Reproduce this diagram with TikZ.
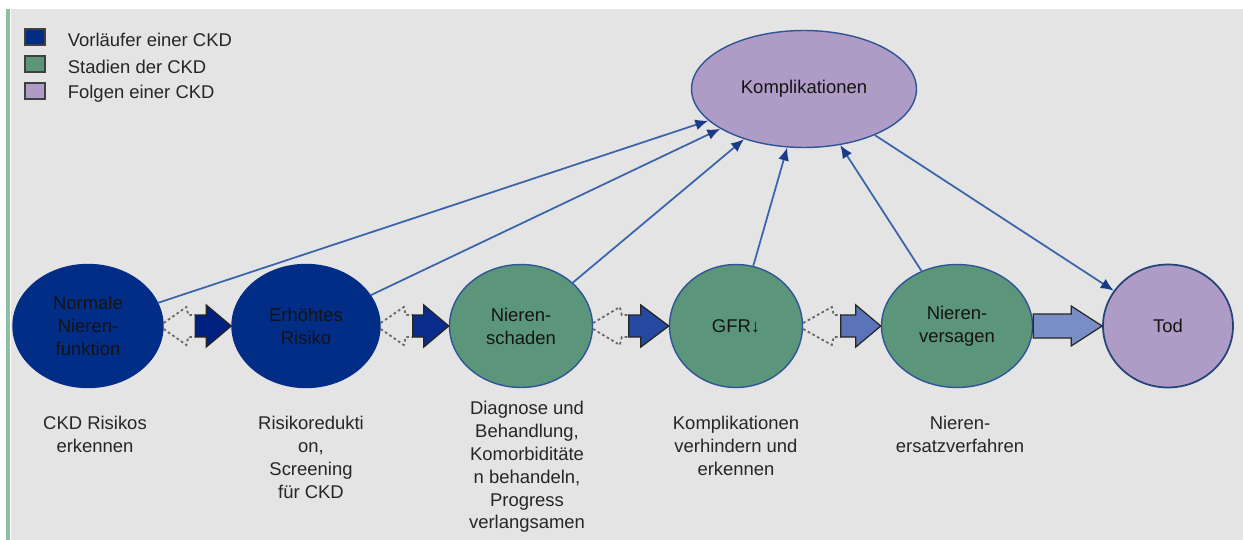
\documentclass[tikz,border=0pt]{standalone}
\usepackage{fontspec}
\setmainfont{Liberation Sans}
\usetikzlibrary{positioning,calc,arrows.meta,shapes.geometric}

\definecolor{bggray}{HTML}{E4E4E4}
\definecolor{sidegreen}{HTML}{8DBFA5}
\definecolor{navyfill}{HTML}{022D86}
\definecolor{stagegreen}{HTML}{5B967A}
\definecolor{folgepurple}{HTML}{AE9CC6}
\definecolor{edgeblue}{HTML}{2F5597}
\definecolor{linkblue}{HTML}{3B64AA}
\definecolor{tipnavy}{HTML}{1A3A8A}
\definecolor{fatA}{HTML}{00207F}
\definecolor{fatB}{HTML}{0A2C8C}
\definecolor{fatC}{HTML}{2548A0}
\definecolor{fatD}{HTML}{5A73B9}
\definecolor{fatE}{HTML}{7A8EC6}

\newcommand{\ckdfont}{\fontsize{10.5}{13}\selectfont}

% block arrow: start, tip, fill, head length, body half height, head half height
\newcommand{\fatarrow}[6]{%
  \draw[fat, fill=#3] ($(#1)+(0,-#5)$) -- ($(#2)+(-#4,-#5)$) -- ($(#2)+(-#4,-#6)$)
    -- (#2) -- ($(#2)+(-#4,#6)$) -- ($(#2)+(-#4,#5)$) -- ($(#1)+(0,#5)$) -- cycle;}
% dotted tail in front of a block arrow
\newcommand{\ghosttail}[2]{%
  \draw[ghost] ($(#1.east)+(0,-3)$) -- ($(#2)+(-9,-19)$) -- ($(#2)+(-7,-11)$) -- ($(#2)+(0,-11)$);
  \draw[ghost] ($(#1.east)+(0,3)$) -- ($(#2)+(-9,19)$) -- ($(#2)+(-7,11)$) -- ($(#2)+(0,11)$);}

\tikzset{
  stage/.style={ellipse, draw=edgeblue, line width=0.8pt, inner sep=0pt,
    minimum height=2.46cm, font=\ckdfont, text=black!92, align=center},
  legbox/.style={draw=black!75, line width=0.6pt, minimum width=0.4cm,
    minimum height=0.32cm, inner sep=0pt},
  legtext/.style={anchor=west, inner sep=0pt, font=\ckdfont, text=black!85},
  hint/.style={anchor=north, inner sep=0pt, align=center, font=\ckdfont, text=black!85},
  link/.style={draw=linkblue, line width=1pt},
  ghost/.style={draw=black!60, line width=1pt, dash pattern=on 1.5pt off 1.5pt},
  fat/.style={draw=black!85, line width=0.7pt, line join=miter}
}

\begin{document}
\begin{tikzpicture}[x=0.02cm, y=-0.02cm,
    >={Latex[length=2.6mm,width=2.2mm,color=tipnavy]}]
  \useasboundingbox (0,0) rectangle (1243,540);
  \fill[white] (0,0) rectangle (1243,540);
  \fill[bggray] (11,9) rectangle (1243,540);
  \fill[sidegreen] (6,9) rectangle (10,540);

  % legend
  \node[legbox, fill=navyfill] (lg1) at (35,37) {};
  \node[legbox, fill=stagegreen] (lg2) at (35,64) {};
  \node[legbox, fill=folgepurple] (lg3) at (35,91) {};
  \node[legtext, right=0.44cm of lg1, yshift=-0.05cm] (lt1) {Vorläufer einer CKD};
  \node[legtext, right=0.44cm of lg2, yshift=-0.05cm] (lt2) {Stadien der CKD};
  \node[legtext, right=0.44cm of lg3, yshift=-0.05cm] (lt3) {Folgen einer CKD};

  % stages
  \node[stage, fill=navyfill, draw=navyfill, minimum width=3.0cm] (norm) at (88,326) {Normale\\Nieren-\\funktion};
  \node[stage, fill=navyfill, draw=navyfill, minimum width=2.96cm] (erh) at (306,326) {Erhöhtes\\Risiko};
  \node[stage, fill=stagegreen, minimum width=2.86cm] (schad) at (521,326) {Nieren-\\schaden};
  \node[stage, fill=stagegreen, minimum width=2.66cm] (gfr) at (736,326) {GFR↓};
  \node[stage, fill=stagegreen, minimum width=3.02cm] (vers) at (957,326) {Nieren-\\versagen};
  \node[stage, fill=folgepurple, draw=edgeblue!80!black, line width=1pt, minimum width=2.6cm] (tod) at (1168,326) {Tod};
  \node[stage, fill=folgepurple, minimum width=4.5cm, minimum height=2.34cm] (kompl) at (804,89) {Komplikationen};

  % links to Komplikationen
  \draw[link, ->] (norm) -- (kompl);
  \draw[link, ->] (erh) -- (kompl);
  \draw[link, ->] (schad) -- (kompl);
  \draw[link, ->] (gfr) -- (kompl);
  \draw[link, ->] (vers) -- (kompl);
  \draw[link, ->] (kompl) -- (tod);

  % block arrows along the course
  \coordinate (s1) at ($(erh.west)+(-36,0)$);
  \coordinate (s2) at ($(schad.west)+(-36,0)$);
  \coordinate (s3) at ($(gfr.west)+(-40,0)$);
  \coordinate (s4) at ($(vers.west)+(-40,0)$);
  \ghosttail{norm}{s1}
  \ghosttail{erh}{s2}
  \ghosttail{schad}{s3}
  \ghosttail{gfr}{s4}
  \fatarrow{s1}{erh.west}{fatA}{25}{11}{21}
  \fatarrow{s2}{schad.west}{fatB}{25}{11}{21}
  \fatarrow{s3}{gfr.west}{fatC}{28}{11}{21}
  \fatarrow{s4}{vers.west}{fatD}{25}{11}{21}
  \fatarrow{vers.east}{tod.west}{fatE}{31}{12}{20}

  % tasks below
  \node[hint] (h1) at (95,416) {CKD Risikos\\erkennen};
  \node[hint] (h2) at (311,416) {Risikoredukti\\on,\\Screening\\für CKD};
  \node[hint] (h3) at (527,401) {Diagnose und\\Behandlung,\\Komorbiditäte\\n behandeln,\\Progress\\verlangsamen};
  \node[hint] (h4) at (736,416) {Komplikationen\\verhindern und\\erkennen};
  \node[hint] (h5) at (960,416) {Nieren-\\ersatzverfahren};
\end{tikzpicture}
\end{document}
